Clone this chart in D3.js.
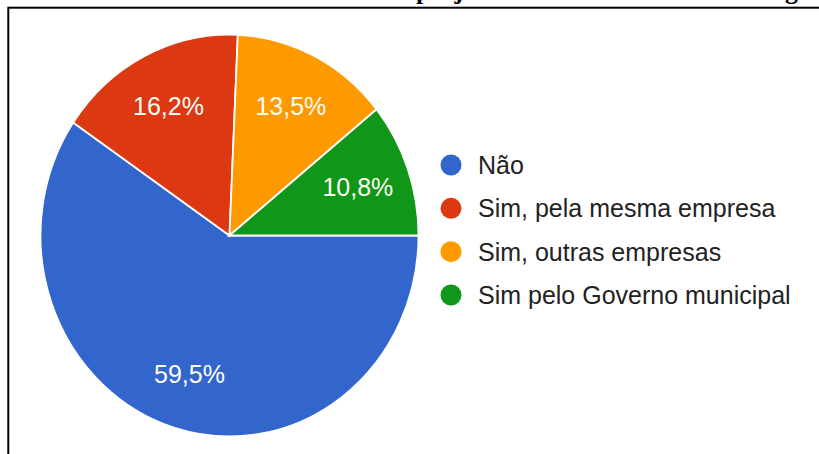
<!DOCTYPE html>
<html><head><meta charset="utf-8">
<script src="https://cdn.jsdelivr.net/npm/d3@7"></script>
<style>html,body{margin:0;padding:0;background:#fff;overflow:hidden}</style>
</head><body>
<script>
const categories = ["Não", "Sim, pela mesma empresa", "Sim, outras empresas", "Sim pelo Governo municipal"];
const values = [59.5, 16.2, 13.5, 10.8];
const labels = ["59,5%", "16,2%", "13,5%", "10,8%"];
const colors = ["#3366cc", "#dc3912", "#ff9900", "#109618"];
const titleParts = [{text: "projeto", x: 416}, {text: "g", x: 785}];

const W = 819, H = 454;
const svg = d3.select("body").append("svg").attr("width", W).attr("height", H);

// frame
svg.append("rect").attr("x", 8.3).attr("y", 7.7).attr("width", 900).attr("height", 600)
  .attr("fill", "none").attr("stroke", "#000").attr("stroke-width", 2);

// cut-off title descenders
svg.selectAll("text.title").data(titleParts).enter().append("text")
  .attr("class", "title").attr("x", d => d.x).attr("y", -1)
  .attr("font-family", "Liberation Serif, serif").attr("font-weight", "bold")
  .attr("font-size", 26).attr("fill", "#000").text(d => d.text);

const cx = 229.5, cy = 235.5, rx = 189, ry = 201;
const sy = ry / rx;

const pie = d3.pie().sort(null).value(d => d)
  .startAngle(Math.PI / 2).endAngle(Math.PI / 2 + 2 * Math.PI);
const arcs = pie(values);
const arc = d3.arc().innerRadius(0).outerRadius(rx);
const labelArc = d3.arc().innerRadius(rx * 0.72).outerRadius(rx * 0.72);

const g = svg.append("g").attr("transform", `translate(${cx},${cy}) scale(1,${sy})`);
g.selectAll("path").data(arcs).enter().append("path")
  .attr("d", arc).attr("fill", (d, i) => colors[i])
  .attr("stroke", "#fff").attr("stroke-width", 1.8);

svg.selectAll("text.lbl").data(arcs).enter().append("text")
  .attr("class", "lbl")
  .attr("x", d => cx + labelArc.centroid(d)[0])
  .attr("y", d => cy + labelArc.centroid(d)[1] * sy)
  .attr("text-anchor", "middle").attr("dominant-baseline", "central")
  .attr("font-family", "Liberation Sans, Arial, sans-serif").attr("font-size", 25)
  .attr("fill", "#fffdf5").text((d, i) => labels[i]);

// legend
const ly = d3.scalePoint().domain(categories).range([165, 295]);
const leg = svg.selectAll("g.leg").data(categories).enter().append("g")
  .attr("class", "leg").attr("transform", d => `translate(451,${ly(d)})`);
leg.append("circle").attr("r", 10.5).attr("fill", (d, i) => colors[i]);
leg.append("text").attr("x", 27).attr("dy", "0.36em")
  .attr("font-family", "Liberation Sans, Arial, sans-serif").attr("font-size", 25)
  .attr("fill", "#222").text(d => d);
</script>
</body></html>
